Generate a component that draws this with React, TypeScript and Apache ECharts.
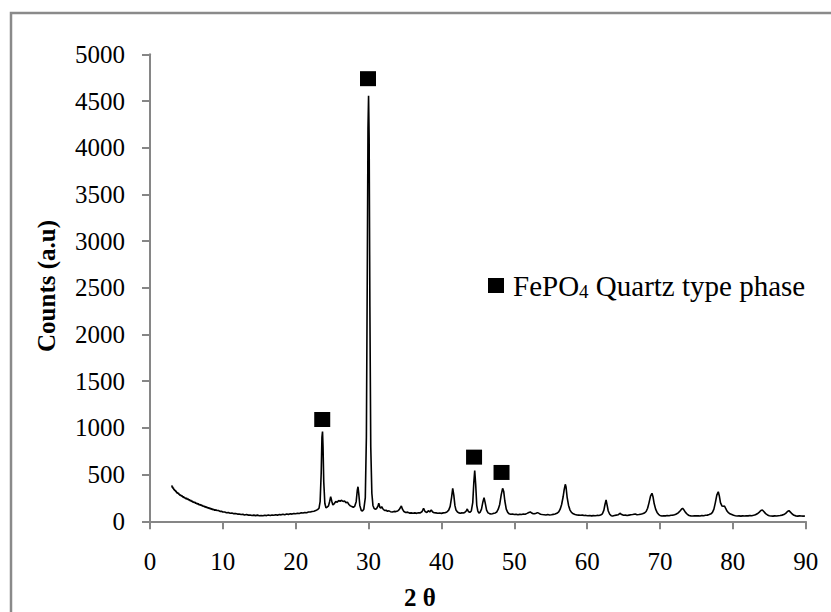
import React, { useEffect, useRef } from "react";
import * as echarts from "echarts";

const xTicks = [0, 10, 20, 30, 40, 50, 60, 70, 80, 90];
const yTicks = [0, 500, 1000, 1500, 2000, 2500, 3000, 3500, 4000, 4500, 5000];

// XRD pattern: [2θ, counts]
const pattern: [number, number][] = [
  [3.0, 384], [3.05, 362], [3.1, 370], [3.15, 350], [3.2, 358], [3.3, 336], [3.35, 344], [3.4, 326], [3.5, 332], [3.55, 314],
  [3.6, 322], [3.7, 302], [3.75, 312], [3.8, 296], [3.9, 304], [3.95, 286], [4.0, 294], [4.1, 278], [4.15, 288], [4.2, 272],
  [4.3, 280], [4.35, 264], [4.4, 274], [4.5, 258], [4.55, 268], [4.6, 252], [4.7, 262], [4.75, 246], [4.8, 254], [4.9, 240],
  [5.0, 250], [5.1, 234], [5.2, 244], [5.3, 226], [5.4, 236], [5.5, 218], [5.6, 228], [5.7, 210], [5.8, 220], [5.9, 202],
  [6.0, 212], [6.1, 196], [6.2, 205], [6.3, 190], [6.4, 198], [6.5, 182], [6.6, 191], [6.7, 176], [6.8, 184], [6.9, 170],
  [7.0, 178], [7.1, 164], [7.2, 172], [7.3, 158], [7.4, 166], [7.5, 152], [7.6, 160], [7.7, 146], [7.8, 154], [7.9, 141],
  [8.0, 148], [8.1, 136], [8.2, 143], [8.3, 131], [8.4, 138], [8.5, 126], [8.6, 132], [8.7, 121], [8.8, 128], [8.9, 116],
  [9.0, 123], [9.2, 115], [9.4, 116], [9.6, 106], [9.8, 108], [10.0, 99],
  [10.25, 100], [10.5, 92], [10.75, 93], [11.0, 86], [11.25, 88], [11.5, 82], [11.75, 83], [12.0, 77], [12.25, 78],
  [12.5, 73], [12.75, 74], [13.0, 68], [13.25, 72], [13.5, 66], [13.75, 68], [14.0, 63], [14.25, 66], [14.5, 61], [14.75, 66],
  [15.0, 60], [15.25, 63], [15.5, 59], [15.75, 65], [16.0, 61], [16.25, 67], [16.5, 62], [16.75, 68], [17.0, 65], [17.25, 71],
  [17.5, 66], [17.75, 73], [18.0, 69], [18.25, 75], [18.5, 71], [18.75, 78], [19.0, 74], [19.25, 81], [19.5, 77], [19.75, 84],
  [20.0, 81], [20.25, 87], [20.5, 84], [20.75, 91], [21.0, 88], [21.25, 95], [21.5, 92], [21.75, 99], [22.0, 99], [22.25, 105],
  [22.5, 108], [22.75, 115], [23.0, 125], [23.2, 140], [23.35, 210], [23.5, 520], [23.6, 900], [23.68, 960], [23.75, 800], [23.85, 420],
  [24.0, 190], [24.15, 145], [24.3, 150], [24.5, 165], [24.65, 210], [24.8, 264], [24.95, 215], [25.1, 175], [25.3, 190], [25.5, 212],
  [25.7, 205], [25.9, 222], [26.1, 215], [26.3, 225], [26.5, 212], [26.7, 218], [26.9, 200], [27.1, 205], [27.3, 180], [27.5, 165],
  [27.7, 158], [27.9, 150], [28.1, 160], [28.3, 210], [28.45, 330], [28.55, 370], [28.65, 300], [28.8, 170], [29.0, 115], [29.15, 110],
  [29.35, 130], [29.55, 250], [29.7, 900], [29.82, 2600], [29.92, 4200], [30.0, 4557], [30.08, 4100], [30.18, 2300], [30.3, 800], [30.45, 300],
  [30.6, 170], [30.75, 139], [30.9, 130], [31.1, 135], [31.3, 165], [31.4, 193], [31.55, 150], [31.7, 140], [31.8, 157], [31.95, 135],
  [32.2, 115], [32.4, 118], [32.6, 108], [32.8, 112], [33.0, 103], [33.25, 100], [33.5, 106], [33.75, 104], [34.0, 110], [34.2, 125],
  [34.4, 150], [34.5, 164], [34.65, 130], [34.85, 105], [35.1, 95], [35.35, 98], [35.6, 88], [35.85, 90], [36.1, 86], [36.35, 90],
  [36.6, 85], [36.85, 92], [37.1, 90], [37.35, 105], [37.55, 139], [37.75, 105], [38.0, 95], [38.2, 114], [38.4, 100], [38.6, 121],
  [38.8, 100], [39.0, 92], [39.25, 90], [39.5, 86], [39.75, 88], [40.0, 85], [40.25, 90], [40.5, 92], [40.75, 100], [41.0, 120],
  [41.2, 160], [41.4, 260], [41.55, 353], [41.7, 280], [41.85, 170], [42.0, 120], [42.2, 100], [42.4, 90], [42.6, 86], [42.8, 90],
  [43.0, 88], [43.2, 95], [43.4, 110], [43.55, 132], [43.7, 105], [43.9, 95], [44.1, 110], [44.3, 200], [44.45, 420], [44.57, 542],
  [44.7, 400], [44.85, 170], [45.0, 110], [45.15, 88], [45.3, 95], [45.5, 130], [45.7, 210], [45.85, 253], [46.0, 200], [46.2, 120],
  [46.4, 90], [46.6, 82], [46.8, 78], [47.0, 80], [47.2, 85], [47.4, 90], [47.6, 100], [47.8, 130], [48.0, 180], [48.2, 280],
  [48.4, 353], [48.55, 320], [48.7, 220], [48.9, 130], [49.1, 95], [49.3, 80], [49.5, 75], [49.75, 78], [50.0, 72], [50.25, 76],
  [50.5, 70], [50.75, 74], [51.0, 72], [51.25, 78], [51.5, 76], [51.75, 85], [52.0, 95], [52.2, 100], [52.4, 88], [52.6, 80],
  [52.8, 82], [53.0, 86], [53.2, 93], [53.4, 85], [53.6, 76], [53.85, 72], [54.1, 70], [54.35, 68], [54.6, 72], [54.85, 68],
  [55.1, 70], [55.35, 74], [55.6, 78], [55.85, 85], [56.1, 100], [56.3, 130], [56.5, 180], [56.7, 260], [56.85, 340], [57.0, 396],
  [57.1, 370], [57.25, 260], [57.45, 170], [57.65, 120], [57.85, 95], [58.1, 80], [58.35, 72], [58.6, 68], [58.85, 66], [59.1, 64],
  [59.35, 66], [59.6, 62], [59.85, 63], [60.1, 60], [60.35, 62], [60.6, 58], [60.85, 61], [61.1, 60], [61.35, 63], [61.6, 62],
  [61.85, 68], [62.1, 80], [62.3, 120], [62.45, 180], [62.6, 228], [62.75, 170], [62.9, 110], [63.1, 75], [63.3, 60], [63.5, 57],
  [63.75, 62], [64.0, 66], [64.25, 70], [64.5, 86], [64.75, 72], [65.0, 64], [65.25, 66], [65.5, 62], [65.75, 66], [66.0, 70],
  [66.25, 72], [66.6, 78], [66.85, 70], [67.1, 72], [67.35, 76], [67.6, 80], [67.85, 88], [68.1, 105], [68.3, 140], [68.5, 200],
  [68.7, 270], [68.9, 300], [69.05, 260], [69.2, 190], [69.4, 130], [69.6, 95], [69.8, 75], [70.0, 62], [70.25, 57], [70.5, 60],
  [70.75, 58], [71.0, 62], [71.25, 60], [71.5, 64], [71.75, 66], [72.0, 70], [72.25, 78], [72.5, 90], [72.75, 110], [72.95, 130],
  [73.1, 139], [73.3, 120], [73.5, 95], [73.75, 75], [74.0, 62], [74.25, 58], [74.5, 56], [74.75, 60], [75.0, 58], [75.25, 60],
  [75.5, 57], [75.75, 62], [76.0, 60], [76.25, 64], [76.5, 66], [76.75, 72], [77.0, 80], [77.2, 95], [77.4, 130], [77.6, 200],
  [77.8, 280], [78.0, 317], [78.15, 270], [78.3, 200], [78.5, 165], [78.7, 160], [78.85, 164], [79.0, 140], [79.2, 110], [79.4, 92],
  [79.6, 80], [79.85, 72], [80.1, 64], [80.35, 60], [80.6, 57], [80.85, 58], [81.1, 55], [81.35, 58], [81.6, 56], [81.85, 60],
  [82.1, 58], [82.35, 62], [82.6, 60], [82.85, 64], [83.1, 70], [83.35, 80], [83.6, 95], [83.85, 115], [84.05, 121], [84.25, 105],
  [84.5, 82], [84.75, 68], [85.0, 60], [85.25, 57], [85.5, 55], [85.75, 58], [86.0, 56], [86.25, 60], [86.5, 62], [86.75, 66],
  [87.0, 72], [87.25, 85], [87.5, 105], [87.7, 114], [87.9, 98], [88.15, 78], [88.4, 64], [88.65, 58], [88.9, 55], [89.15, 58],
  [89.4, 56], [89.65, 55], [89.9, 57],
];

// Phase markers (FePO4 quartz-type) positions
const markerTheta = [23.64, 29.92, 44.48, 48.25];
const markerCounts = [1090, 4739, 687, 523];

const FONT = "'Liberation Serif', 'Times New Roman', serif";

export default function App() {
  const ref = useRef<HTMLDivElement>(null);
  useEffect(() => {
    document.body.style.margin = "0";
    if (!ref.current) return;
    const chart = echarts.init(ref.current, null, { renderer: "svg" });
    const axisLineStyle = { color: "#868686", width: 2 };
    chart.setOption({
      animation: false,
      backgroundColor: "#ffffff",
      textStyle: { fontFamily: FONT },
      grid: { left: 150, right: 25.3, top: 54.3, bottom: 90.7, containLabel: false },
      xAxis: {
        type: "value",
        min: xTicks[0],
        max: xTicks[xTicks.length - 1],
        interval: 10,
        axisLine: { show: true, lineStyle: axisLineStyle },
        axisTick: { show: true, inside: false, length: 8, lineStyle: axisLineStyle },
        splitLine: { show: false },
        axisLabel: { color: "#000", fontSize: 25, fontFamily: FONT, margin: 28, formatter: (v: number) => String(v) },
      },
      yAxis: {
        type: "value",
        min: yTicks[0],
        max: yTicks[yTicks.length - 1],
        interval: 500,
        axisLine: { show: true, lineStyle: axisLineStyle },
        axisTick: { show: true, inside: false, length: 8, lineStyle: axisLineStyle },
        splitLine: { show: false },
        axisLabel: { color: "#000", fontSize: 25, fontFamily: FONT, margin: 25, formatter: (v: number) => String(v) },
      },
      legend: {
        show: true,
        data: ["FePO4 Quartz type phase"],
        left: 483,
        top: 266,
        icon: "rect",
        itemWidth: 16,
        itemHeight: 15,
        itemStyle: { opacity: 1, color: "#000" },
        textStyle: {
          fontFamily: FONT,
          fontSize: 29,
          color: "#000",
          padding: [0, 0, 0, 4],
          rich: {
            a: { fontFamily: FONT, fontSize: 29, color: "#000" },
            s: { fontFamily: FONT, fontSize: 19, color: "#000", verticalAlign: "bottom", padding: [11, 0, 0, 0] },
          },
        },
        formatter: () => "{a|FePO}{s|4}{a| Quartz type phase}",
      },
      graphic: [
        {
          type: "rect",
          shape: { x: 11, y: 13, width: 900, height: 700 },
          style: { fill: "none", stroke: "#8a8a8a", lineWidth: 2.5 },
          silent: true,
        },
        {
          type: "text",
          x: 420,
          y: 597,
          style: {
            text: "2 θ",
            font: `bold 25px ${FONT}`,
            fill: "#000",
            align: "center",
            verticalAlign: "middle",
          },
        },
        {
          type: "text",
          x: 46,
          y: 286,
          rotation: Math.PI / 2,
          style: {
            text: "Counts (a.u)",
            font: `bold 25px ${FONT}`,
            fill: "#000",
            align: "center",
            verticalAlign: "middle",
          },
        },
      ],
      series: [
        {
          type: "line",
          name: "pattern",
          data: pattern,
          showSymbol: false,
          symbol: "none",
          lineStyle: { color: "#000", width: 1.6 },
          z: 2,
        },
        {
          type: "scatter",
          name: "FePO4 Quartz type phase",
          data: markerTheta.map((t, i) => [t, markerCounts[i]]),
          symbol: "rect",
          symbolSize: [16, 15],
          itemStyle: { color: "#000", opacity: 1 },
          z: 3,
        },
      ],
    });
    return () => chart.dispose();
  }, []);
  return <div ref={ref} style={{ width: 831, height: 612 }} />;
}
